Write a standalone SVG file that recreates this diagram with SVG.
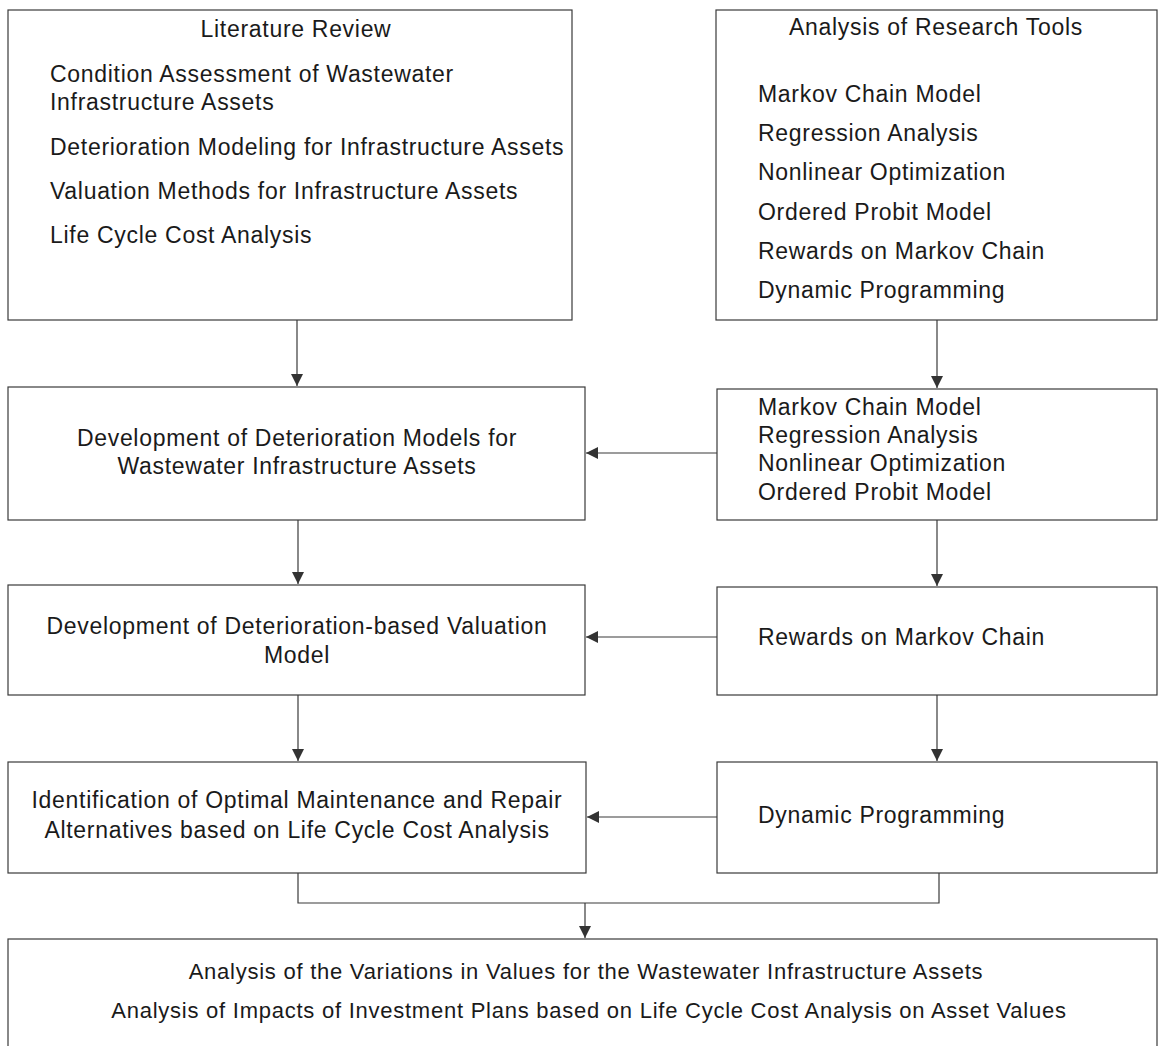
<svg xmlns="http://www.w3.org/2000/svg" width="1158" height="1046" viewBox="0 0 1158 1046">
  <style>
    .box { fill: #ffffff; stroke: #3a3a3a; stroke-width: 1.2; }
    .wire { fill: none; stroke: #3a3a3a; stroke-width: 1.2; }
    text { font-family: "Liberation Sans", Arial, sans-serif; font-size: 23px; letter-spacing: 0.7px; fill: #1a1a1a; }
    .c { text-anchor: middle; }
    .s { font-size: 22px; letter-spacing: 0.75px; }
  </style>
  <defs>
    <marker id="arrow" viewBox="0 0 12 12" refX="12" refY="6" markerWidth="12" markerHeight="12" markerUnits="userSpaceOnUse" orient="auto">
      <path d="M0,0 L12,6 L0,12 Z" fill="#333333"/>
    </marker>
  </defs>
  <rect width="1158" height="1046" fill="#ffffff"/>

  <g id="literature-review">
    <rect class="box" x="8" y="10" width="564" height="310"/>
    <text class="c" x="296" y="37">Literature Review</text>
    <text x="50" y="82">Condition Assessment of Wastewater</text>
    <text x="50" y="110">Infrastructure Assets</text>
    <text x="50" y="155">Deterioration Modeling for Infrastructure Assets</text>
    <text x="50" y="199">Valuation Methods for Infrastructure Assets</text>
    <text x="50" y="243">Life Cycle Cost Analysis</text>
  </g>

  <g id="research-tools">
    <rect class="box" x="716" y="10" width="441" height="310"/>
    <text class="c" x="936" y="35">Analysis of Research Tools</text>
    <text x="758" y="102">Markov Chain Model</text>
    <text x="758" y="141">Regression Analysis</text>
    <text x="758" y="180">Nonlinear Optimization</text>
    <text x="758" y="220">Ordered Probit Model</text>
    <text x="758" y="259">Rewards on Markov Chain</text>
    <text x="758" y="298">Dynamic Programming</text>
  </g>

  <g id="deterioration-models">
    <rect class="box" x="8" y="387" width="577" height="133"/>
    <text class="c" x="297" y="446">Development of Deterioration Models for</text>
    <text class="c" x="297" y="474">Wastewater Infrastructure Assets</text>
  </g>

  <g id="model-tools">
    <rect class="box" x="717" y="389" width="440" height="131"/>
    <text x="758" y="415">Markov Chain Model</text>
    <text x="758" y="443">Regression Analysis</text>
    <text x="758" y="471">Nonlinear Optimization</text>
    <text x="758" y="500">Ordered Probit Model</text>
  </g>

  <g id="valuation-model">
    <rect class="box" x="8" y="585" width="577" height="110"/>
    <text class="c" x="297" y="634">Development of Deterioration-based Valuation</text>
    <text class="c" x="297" y="663">Model</text>
  </g>

  <g id="rewards">
    <rect class="box" x="717" y="587" width="440" height="108"/>
    <text x="758" y="645">Rewards on Markov Chain</text>
  </g>

  <g id="optimal-maintenance">
    <rect class="box" x="8" y="762" width="578" height="111"/>
    <text class="c" x="297" y="808">Identification of Optimal Maintenance and Repair</text>
    <text class="c" x="297" y="838">Alternatives based on Life Cycle Cost Analysis</text>
  </g>

  <g id="dynamic-programming">
    <rect class="box" x="717" y="762" width="440" height="111"/>
    <text x="758" y="823">Dynamic Programming</text>
  </g>

  <g id="asset-value-analysis">
    <rect class="box" x="8" y="939" width="1149" height="120"/>
    <text class="c s" x="586" y="979">Analysis of the Variations in Values for the Wastewater Infrastructure Assets</text>
    <text class="c s" x="589" y="1018">Analysis of Impacts of Investment Plans based on Life Cycle Cost Analysis on Asset Values</text>
  </g>

  <g id="connectors">
    <line class="wire" x1="297" y1="320" x2="297" y2="386" marker-end="url(#arrow)"/>
    <line class="wire" x1="937" y1="320" x2="937" y2="388" marker-end="url(#arrow)"/>
    <line class="wire" x1="717" y1="453" x2="586" y2="453" marker-end="url(#arrow)"/>
    <line class="wire" x1="298" y1="520" x2="298" y2="584" marker-end="url(#arrow)"/>
    <line class="wire" x1="937" y1="520" x2="937" y2="586" marker-end="url(#arrow)"/>
    <line class="wire" x1="717" y1="637" x2="586" y2="637" marker-end="url(#arrow)"/>
    <line class="wire" x1="298" y1="695" x2="298" y2="761" marker-end="url(#arrow)"/>
    <line class="wire" x1="937" y1="695" x2="937" y2="761" marker-end="url(#arrow)"/>
    <line class="wire" x1="717" y1="817" x2="587" y2="817" marker-end="url(#arrow)"/>
    <polyline class="wire" points="298,873 298,903 939,903 939,873"/>
    <line class="wire" x1="585" y1="903" x2="585" y2="938" marker-end="url(#arrow)"/>
  </g>
</svg>
